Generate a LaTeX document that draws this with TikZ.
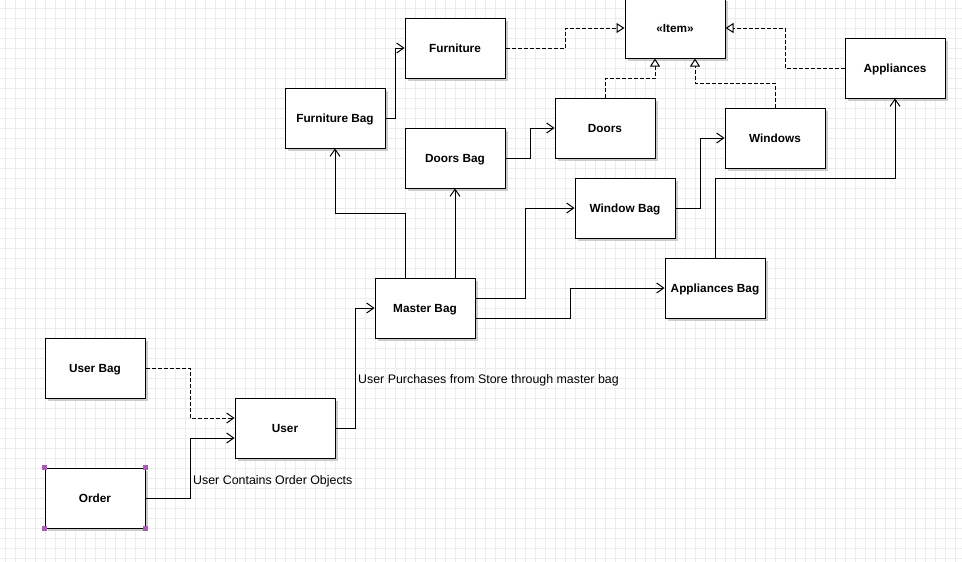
\documentclass[tikz,border=0pt]{standalone}
\usepackage{fontspec}
\setmainfont{Liberation Sans}
\usetikzlibrary{arrows.meta,shadows,calc}
\definecolor{gridc}{RGB}{236,236,236}
\definecolor{shadowc}{RGB}{205,205,205}
\definecolor{handlec}{RGB}{168,92,180}
\tikzset{
  box/.style={rectangle, draw=black, line width=1pt, fill=white,
    minimum width=100pt, minimum height=60pt, inner sep=0pt,
    text height=8.4pt, text depth=0pt,
    font=\fontsize{11.8}{14}\selectfont\bfseries,
    general shadow={fill=shadowc, shadow xshift=3pt, shadow yshift=-3pt}},
  assoc/.style={draw=black, line width=1pt, -{Straight Barb[length=7pt,width=10pt]}},
  dep/.style={assoc, dash pattern=on 4pt off 2pt},
  real/.style={draw=black, line width=1pt, dash pattern=on 4pt off 2pt,
    -{Triangle[length=8pt,width=10pt,fill=white]}},
  lbl/.style={inner sep=0pt, font=\fontsize{12.4}{14}\selectfont, anchor=base west},
  gridline/.style={draw=gridc, line width=1pt},
  handle/.style={fill=handlec, draw=none, minimum size=5pt, inner sep=0pt, rectangle}
}
\begin{document}
\begin{tikzpicture}[x=1pt,y=-1pt]
\fill[white] (0,0) rectangle (962,562);
\useasboundingbox (0,0) rectangle (962,562);
\foreach \x in {5,15,...,955} \draw[gridline] (\x,0) -- (\x,562);
\foreach \y in {8,18,...,558} \draw[gridline] (0,\y) -- (962,\y);

\node[box] (item) at (675,28) {«Item»};
\node[box] (furn) at (455,48) {Furniture};
\node[box] (appl) at (895,68) {Appliances};
\node[box] (windows) at (775,138) {Windows};
\node[box] (doors) at (605,128) {Doors};
\node[box] (furnbag) at (335,118) {Furniture Bag};
\node[box] (doorsbag) at (455,158) {Doors Bag};
\node[box] (winbag) at (625,208) {Window Bag};
\node[box] (master) at (425,308) {Master Bag};
\node[box] (applbag) at (715,288) {Appliances Bag};
\node[box] (userbag) at (95,368) {User Bag};
\node[box] (user) at (285,428) {User};
\node[box] (order) at (95,498) {Order};

\node[handle] (h1) at (order.north west) {};
\node[handle] (h2) at (order.north east) {};
\node[handle] (h3) at (order.south west) {};
\node[handle] (h4) at (order.south east) {};

\draw[dep] (userbag.east) -- (190,368) |- ($(user.west)+(0,-10)$);
\draw[assoc] (order.east) -- (190,498) |- ($(user.west)+(0,10)$);
\node[lbl] (l1) at (193,484) {User Contains Order Objects};
\draw[assoc] (user.east) -- (355,428) |- (master.west);
\node[lbl] (l2) at (358,383) {User Purchases from Store through master bag};

\draw[assoc] ($(master.north)+(-20,0)$) -- (405,213) -| (furnbag.south);
\draw[assoc] ($(master.north)+(30,0)$) -- (doorsbag.south);
\draw[assoc] ($(master.east)+(0,-10)$) -- (525,298) |- (winbag.west);
\draw[assoc] ($(master.east)+(0,10)$) -- (570,318) |- (applbag.west);
\draw[assoc] (furnbag.east) -- (395,118) |- (furn.west);
\draw[assoc] (doorsbag.east) -- (530,158) |- (doors.west);
\draw[assoc] (winbag.east) -- (700,208) |- (windows.west);
\draw[assoc] (applbag.north) -- (715,178) -| (appl.south);

\draw[real] (furn.east) -- (565,48) |- (item.west);
\draw[real] (doors.north) -- (605,78) -| ($(item.south)+(-20,0)$);
\draw[real] (windows.north) -- (775,83) -| ($(item.south)+(20,0)$);
\draw[real] (appl.west) -- (785,68) |- (item.east);
\end{tikzpicture}
\end{document}
